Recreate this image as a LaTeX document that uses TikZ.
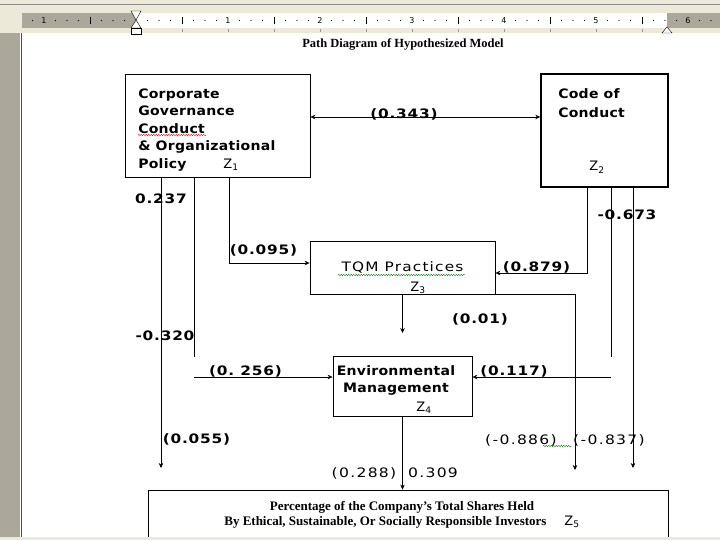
\documentclass[tikz,border=0pt]{standalone}
\usepackage{fontspec}
\setmainfont{Liberation Serif}
\newfontfamily\verdfont[FakeStretch=1.08, LetterSpace=2]{DejaVu Sans}
\newfontfamily\numfont[FakeStretch=1.18, LetterSpace=6]{DejaVu Sans}
\newfontfamily\numthinfont[FakeStretch=1.2, LetterSpace=10]{DejaVu Sans}
\newfontfamily\tqmfont[FakeStretch=1.18, LetterSpace=9]{DejaVu Sans}
\newfontfamily\rulerfont{DejaVu Sans}
\usepackage{tikz}
\usetikzlibrary{arrows.meta, positioning, decorations.pathmorphing}

\definecolor{xpbeige}{RGB}{236,233,216}
\definecolor{rulergray}{RGB}{171,168,155}

\begin{document}
\begin{tikzpicture}[x=1pt, y=-1pt, >={Stealth[length=5pt, width=4.5pt]}, line width=0.5pt,
    block/.style={draw, line width=0.8pt, inner sep=0pt},
    coef/.style={font=\numfont\bfseries\fontsize{13}{15}\selectfont, inner sep=0pt},
    coefthin/.style={font=\numthinfont\fontsize{13}{15}\selectfont, inner sep=0pt},
    zlab/.style={font=\rulerfont\fontsize{13}{15}\selectfont, inner sep=0pt},
    squiggle/.style={line width=0.4pt, decorate, decoration={snake, amplitude=0.7pt, segment length=2.5pt}}]
    \useasboundingbox (0,0) rectangle (720,540);

    % window frame and ruler
    \fill[white] (0,0) rectangle (720,540);
    \fill[xpbeige] (0,0) rectangle (720,33);
    \draw[black!45] (0,4) -- (720,4);
    \fill[rulergray] (22,13) rectangle (720,28);
    \fill[white] (136,13) rectangle (667,28);
    \begin{scope}
        \clip (22,13) rectangle (720,28);
        \foreach \i in {-2,...,6} {
            \foreach \j in {1,2,3,5,6,7}
                \fill (136+\i*92+\j*11.5, 20.5) circle (0.6);
            \draw (136+\i*92+46, 17) -- (136+\i*92+46, 24);
        }
    \end{scope}
    \node[font=\rulerfont\fontsize{8}{9}\selectfont, inner sep=0pt] (rulneg) at (44,20.5) {1};
    \foreach \n in {1,...,6}
        \node[font=\rulerfont\fontsize{8}{9}\selectfont, inner sep=0pt] (rul\n) at (136+\n*92,20.5) {\n};
    \foreach \n in {1,...,11}
        \draw[black!40] (136+\n*46, 29) -- (136+\n*46, 32);
    \draw[fill=white, line width=0.4pt] (131,11) -- (141,11) -- (136,20) -- cycle;
    \draw[fill=white, line width=0.4pt] (131,28) -- (141,28) -- (136,20) -- cycle;
    \draw[fill=white, line width=0.4pt] (131,28) rectangle (141,34);
    \draw[fill=white, line width=0.4pt] (662,33) -- (672,33) -- (667,27) -- cycle;
    \fill[rulergray] (0,33) rectangle (20,540);
    \draw[black!70] (21,33) -- (21,537);

    \node[font=\bfseries\fontsize{12.5}{14}\selectfont] (title) at (403,44) {Path Diagram of Hypothesized Model};

    % boxes
    \node[block, minimum width=185pt, minimum height=103pt] (gov) at (217.5,125.5) {};
    \node[block, line width=1.4pt, minimum width=127pt, minimum height=113pt] (code) at (604.5,130.5) {};
    \node[block, minimum width=185pt, minimum height=53pt, font=\tqmfont\fontsize{13}{15}\selectfont] (tqm) at (402.5,267.5) {TQM Practices};
    \node[block, minimum width=139pt, minimum height=60pt] (env) at (402.5,386) {};
    \node[block, minimum width=520pt, minimum height=70pt] (share) at (408,525) {};

    % box texts
    \node[anchor=north west, align=left, inner sep=0pt, font=\verdfont\bfseries\fontsize{13}{17.5}\selectfont] (govtxt) at (138,88.5)
        {Corporate\\Governance\\Conduct\\\& Organizational\\Policy};
    \node[anchor=north west, align=left, inner sep=0pt, font=\verdfont\bfseries\fontsize{13}{19}\selectfont] (codetxt) at (558,88.5)
        {Code of\\Conduct};
    \node[align=center, inner sep=0pt, font=\verdfont\bfseries\fontsize{13}{17}\selectfont] (envtxt) at (396,380.5)
        {Environmental\\Management};
    \node[align=center, inner sep=0pt, font=\bfseries\fontsize{13}{15}\selectfont] (sharetxt) at (402,514.5)
        {Percentage of the Company's Total Shares Held\\By Ethical, Sustainable, Or Socially Responsible Investors\hspace{18pt}{\rulerfont\mdseries\fontsize{13}{15}\selectfont Z\textsubscript{5}}};

    \node[zlab] (zone) at (231,165) {Z\textsubscript{1}};
    \node[zlab] (ztwo) at (597,167) {Z\textsubscript{2}};
    \node[zlab] (zthree) at (418,288) {Z\textsubscript{3}};
    \node[zlab] (zfour) at (424,408) {Z\textsubscript{4}};

    % spelling marks
    \draw[red, squiggle] (138,135) -- (206,135);
    \draw[green!50!black, squiggle] (338,275) -- (465,275);
    \draw[green!50!black, squiggle] (543,446) -- (572,446);

    % free ends and bends
    \coordinate (corr) at (404,117);
    \coordinate (gone) at (161,468);
    \coordinate (gtwo) at (194,357);
    \coordinate (gtwob) at (194,377);
    \coordinate (gthree) at (229,263);
    \coordinate (cone) at (587,273);
    \coordinate (ctwo) at (611,357);
    \coordinate (ctwob) at (611,377);
    \coordinate (cthree) at (633,468);
    \coordinate (toneend) at (575,470);
    \coordinate (ttwo) at (402.5,333);

    % connectors
    \draw[<->] (gov.east |- corr) -- (code.west |- corr);
    \draw[->] (gov.south -| gone) -- (gone);
    \draw (gov.south -| gtwo) -- (gtwo);
    \draw[->] (gtwob) -- (env.west |- gtwob);
    \draw[->] (gov.south -| gthree) -- (gthree) -- (tqm.west |- gthree);
    \draw[->] (code.south -| cone) -- (cone) -- (tqm.east |- cone);
    \draw (code.south -| ctwo) -- (ctwo);
    \draw[->] (ctwob) -- (env.east |- ctwob);
    \draw[->] (code.south -| cthree) -- (cthree);
    \draw[->] (tqm.south east) -- (tqm.south east -| toneend) -- (toneend);
    \draw[->] (tqm.south) -- (ttwo);
    \draw[->] (env.south) -- (share.north -| env.south);

    % coefficients
    \node[coef, anchor=base] (lblcorr) at (404,118.5) {(0.343)};
    \node[coef] (lblgone) at (161,199) {0.237};
    \node[coef] (lblgthree) at (263.5,250) {(0.095)};
    \node[coef] (lblcone) at (536.5,267) {(0.879)};
    \node[coef] (lblcthree) at (627,215) {-0.673};
    \node[coef] (lblttwo) at (480,319) {(0.01)};
    \node[coef] (lblgtwo) at (165,336) {-0.320};
    \node[coef] (lblgtwob) at (245.5,371) {(0.\ 256)};
    \node[coef] (lblctwob) at (514,371) {(0.117)};
    \node[coef] (lblgoneb) at (196.5,439) {(0.055)};
    \node[coefthin] (lbltone) at (521,440) {(-0.886)};
    \node[coefthin] (lblctwo) at (609,440) {(-0.837)};
    \node[coefthin] (lblenv) at (364,473) {(0.288)};
    \node[coefthin] (lblenvb) at (433,473) {0.309};

    \fill[xpbeige] (0,537) rectangle (720,540);
\end{tikzpicture}
\end{document}
